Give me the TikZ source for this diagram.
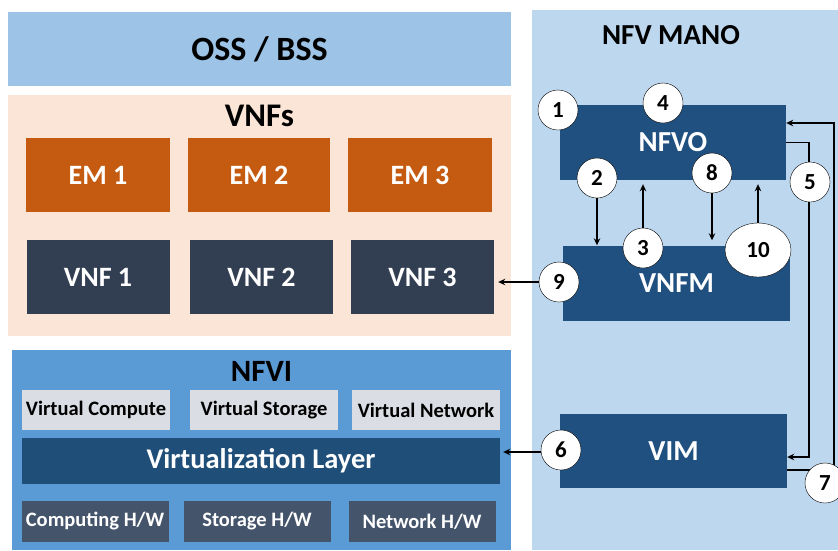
\documentclass[tikz,border=0pt]{standalone}
\usepackage{fontspec}
\setmainfont{Carlito}
\usetikzlibrary{shapes.geometric,arrows.meta}

\definecolor{ossblue}{RGB}{157,195,230}
\definecolor{peach}{RGB}{251,229,214}
\definecolor{emorange}{RGB}{197,90,17}
\definecolor{vnfdark}{RGB}{50,63,82}
\definecolor{nfviblue}{RGB}{91,155,213}
\definecolor{vgray}{RGB}{218,222,228}
\definecolor{vlayer}{RGB}{31,78,121}
\definecolor{hwgray}{RGB}{68,84,106}
\definecolor{manoblue}{RGB}{189,215,238}
\definecolor{nfvoblue}{RGB}{32,80,128}

\newcommand{\fsz}[1]{\bfseries\fontsize{#1}{#1}\selectfont}

\tikzset{
  blk/.style 2 args={rectangle,inner sep=0pt,minimum width=#1pt,minimum height=#2pt},
  em/.style={blk={144}{74},fill=emorange,text=white,font=\fsz{28}},
  vnf/.style={blk={143}{74},fill=vnfdark,text=white,font=\fsz{28}},
  virt/.style={blk={148}{40},fill=vgray,text=black,font=\fsz{20.5}},
  hw/.style={blk={147}{41},fill=hwgray,text=white,font=\fsz{20.5}},
  mano/.style={blk={227}{75},fill=nfvoblue,text=white,font=\fsz{29}},
  num/.style={circle,draw=black,thin,fill=white,minimum size=40pt,inner sep=0pt,font=\fsz{23}},
  flow/.style={line width=1.6pt,-{Stealth[length=7pt,width=6.5pt]}},
  link/.style={line width=1.6pt}
}

\begin{document}
\begin{tikzpicture}[x=1pt,y=-1pt]
  \useasboundingbox (0,0) rectangle (838,550);

  % blocchi a sinistra
  \node[blk={503}{74},fill=ossblue,font=\fsz{34}] (oss) at (259.5,49) {OSS / BSS};
  \node[blk={503}{241},fill=peach] (vnfs) at (259.5,215.5) {};
  \node[font=\fsz{33}] (vnfst) at (259.5,116) {VNFs};
  \node[em] (em1) at (98,175) {EM 1};
  \node[em,minimum width=142pt] (em2) at (259,175) {EM 2};
  \node[em] (em3) at (420,175) {EM 3};
  \node[vnf] (vnf1) at (98,277) {VNF 1};
  \node[vnf] (vnf2) at (261.5,277) {VNF 2};
  \node[vnf] (vnf3) at (422.5,277) {VNF 3};

  \node[blk={499}{200},fill=nfviblue] (nfvi) at (261.5,450) {};
  \node[font=\fsz{31}] (nfvit) at (261.5,371) {NFVI};
  \node[virt] (vc) at (96,410) {Virtual Compute};
  \node[virt] (vs) at (264,410) {Virtual Storage};
  \node[virt] (vn) at (426,410) {Virtual Network};
  \node[blk={478}{46},fill=vlayer,text=white,font=\fsz{28.5}] (vl) at (261,460.5) {Virtualization Layer};
  \node[hw] (chw) at (95,521.5) {Computing H/W};
  \node[hw] (shw) at (257,521.5) {Storage H/W};
  \node[hw] (nhw) at (422,521.5) {Network H/W};

  % NFV MANO
  \node[blk={306}{540},fill=manoblue] (nfvm) at (685,280) {};
  \node[font=\fsz{29}] (nfvmt) at (671,35) {NFV MANO};
  \node[mano,minimum width=226pt] (nfvo) at (673,142.5) {NFVO};
  \node[mano] (vnfm) at (676.5,283) {VNFM};
  \node[mano,minimum height=74pt] (vim) at (673.5,451) {VIM};

  % linee esterne (5 e 7)
  \coordinate (k5) at (809,457);
  \coordinate (k7) at (834,470);
  \coordinate (k7b) at (834,123);
  \draw[flow] (nfvo.east) -| (k5) -- (k5 -| vim.east);
  \draw[flow] (k7 -| vim.east) -- (k7) -- (k7b) -- (k7b -| nfvo.east);

  % numeri
  \node[num] (c1) at (558,110) {1};
  \node[num] (c4) at (663,103) {4};
  \node[num] (c2) at (597,178) {2};
  \node[num] (c8) at (712,173) {8};
  \node[num] (c5) at (810,182) {5};
  \node[num] (c3) at (643,248) {3};
  \node[num,ellipse,minimum width=66pt,minimum height=54pt] (c10) at (758,250) {10};
  \node[num] (c9) at (559,282) {9};
  \node[num] (c6) at (561,450) {6};
  \node[num] (c7) at (825,483) {7};

  % frecce
  \draw[flow] (c2) -- (c2 |- vnfm.north);
  \draw[flow] (c3) -- ([yshift=-4pt]c3 |- nfvo.south);
  \draw[flow] (c8) -- ([yshift=5pt]c8 |- vnfm.north);
  \draw[flow] (c10) -- ([yshift=-4pt]c10 |- nfvo.south);
  \draw[flow] (c9) -- ([xshift=4pt]vnf3.east |- c9);
  \draw[flow] (c6.west) ++(0,2) -- ([xshift=3pt]vl.east |- 0,452);
\end{tikzpicture}
\end{document}
